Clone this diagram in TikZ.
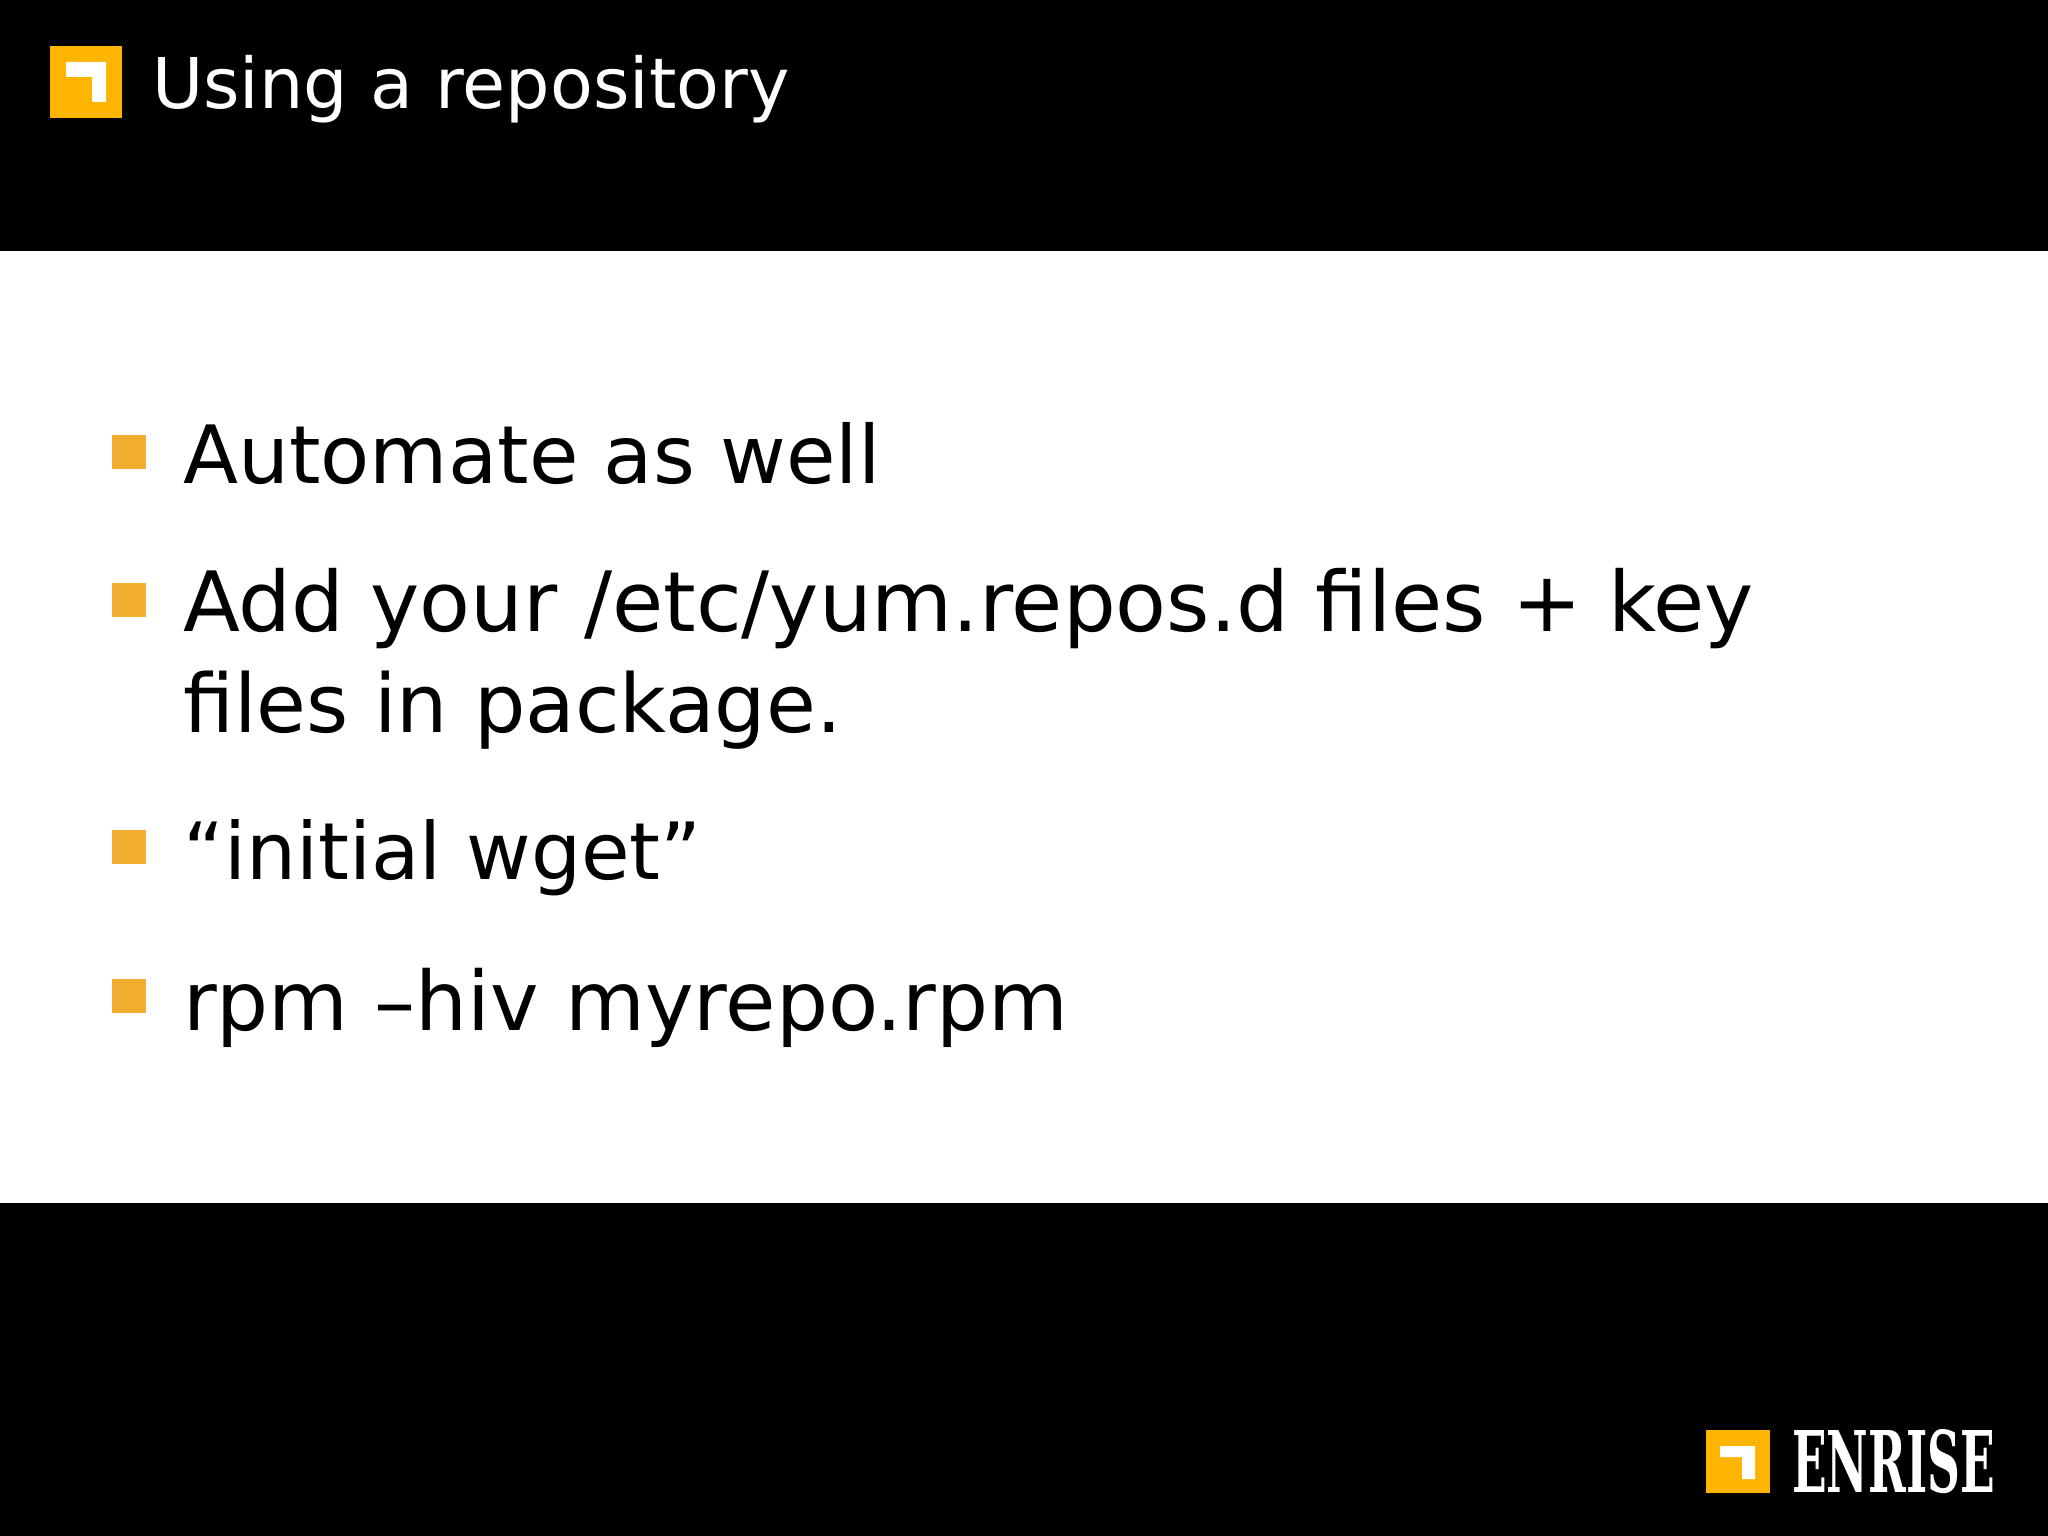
\documentclass[tikz,border=0pt]{standalone}
\usepackage{fontspec}
\setmainfont{DejaVu Sans}
\newfontfamily\logofont{DejaVu Serif}[FakeStretch=0.535]
\definecolor{bul}{HTML}{F2AE30}
\definecolor{logoy}{HTML}{FFB400}
\tikzset{
 bulletbox/.style={fill=bul,draw=none,minimum size=34.5,inner sep=0,anchor=center},
 body/.style={anchor=base west,inner sep=0,font=\fontsize{#1}{82}\selectfont,text=black},
 ttl/.style={anchor=base west,inner sep=0,font=\fontsize{70}{70}\selectfont,text=white},
}
\begin{document}
\begin{tikzpicture}[x=1pt,y=-1pt]
\useasboundingbox (0,0) rectangle (2048,1536);
\fill[white] (0,0) rectangle (2048,1536);
\fill[black] (0,0) rectangle (2048,251);
\fill[black] (0,1203) rectangle (2048,1536);
% title logo
\fill[logoy] (50,46) rectangle (122,118);
\fill[white] (66,62) -- (106,62) -- (106,102) -- (92,102) -- (92,77) -- (66,77) -- cycle;
\node[ttl] (t) at (152,109) {Using a repository};
% bullets
\node[bulletbox] (b1) at (129,452) {};
\node[bulletbox] (b2) at (129,600) {};
\node[bulletbox] (b3) at (129,847) {};
\node[bulletbox] (b4) at (129,996) {};
\node[body=80.4] (l1) at (183,483) {Automate as well};
\node[body=83.2] (l2) at (183,631) {Add your /etc/yum.repos.d files + key};
\node[body=81] (l2b) at (183,732) {files in package.};
\node[body=79] (l3) at (183,879) {“initial wget”};
\node[body=82] (l4) at (183,1030) {rpm –hiv myrepo.rpm};
% bottom logo
\fill[logoy] (1706,1430) rectangle (1770,1493);
\fill[white] (1720,1446) -- (1755,1446) -- (1755,1479) -- (1742,1479) -- (1742,1457) -- (1720,1457) -- cycle;
\node[anchor=base west,inner sep=0,text=white,font=\logofont\bfseries\fontsize{85}{85}\selectfont] (logo) at (1792,1492) {ENRISE};
\end{tikzpicture}
\end{document}
